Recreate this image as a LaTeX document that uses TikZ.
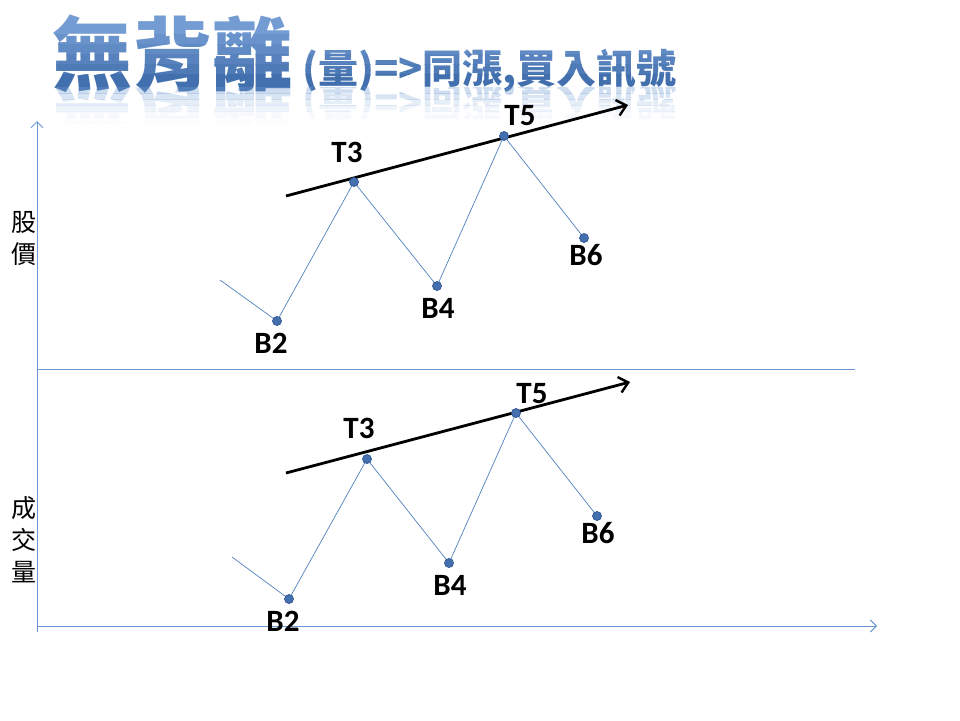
\documentclass[tikz,border=0pt]{standalone}
\usepackage{fontspec}
\setmainfont{Carlito}
\newfontfamily\cjk{Noto Sans CJK TC}
\usetikzlibrary{arrows.meta}
\definecolor{axisblue}{HTML}{6A96D2}
\definecolor{lineblue}{HTML}{4F81BD}
\definecolor{dotblue}{HTML}{4570B0}
\definecolor{dotedge}{HTML}{2F5590}
\definecolor{titletop}{HTML}{7CA4DA}
\definecolor{titlebot}{HTML}{2F5E9E}
\definecolor{titlelight}{HTML}{6F9AD2}
\begin{document}
\begin{tikzpicture}[x=1pt,y=-1pt,
  axis/.style={draw=axisblue, line width=1pt},
  axisarrow/.style={axis, -{Straight Barb[length=6pt,width=12pt,line width=1pt]}},
  wave/.style={draw=lineblue, line width=0.7pt},
  dot/.style={circle, fill=dotblue, draw=dotedge, line width=0.7pt, minimum size=9pt, inner sep=0pt},
  lbl/.style={font=\bfseries\fontsize{31}{31}\selectfont, inner sep=0pt},
  trend/.style={draw=black, line width=2.8pt, -{Straight Barb[length=9pt,width=16pt,line width=2.4pt]}},
  side/.style={font=\cjk\fontsize{25}{32}\selectfont, align=center, inner sep=0pt},
  bigtitle/.style={anchor=base west, inner sep=0pt, font=\cjk\bfseries\fontsize{80}{80}\selectfont},
  smalltitle/.style={anchor=base west, inner sep=0pt, font=\cjk\bfseries\fontsize{40}{40}\selectfont}]
\useasboundingbox (0,0) rectangle (960,720);

% ---- title (vertical gradient via bands) ----
\foreach \ya/\yb/\mx [count=\i] in {0/34/88, 34/44/76, 44/54/64, 54/64/52, 64/74/40, 74/100/25}{
  \begin{scope}
    \clip (40,\ya) rectangle (700,\yb);
    \node[bigtitle, text=titletop!\mx!titlebot] (tA\i) at (52,84) {無背離};
    \node[smalltitle, text=titletop!\mx!titlebot] (tB\i) at (302,83) {(量)=>同漲,買入訊號};
  \end{scope}
}
% ---- reflection ----
\foreach \yy/\oo [count=\i] in {87/0.34,93/0.26,99/0.18,105/0.11,111/0.06,117/0.03}{
  \begin{scope}
    \clip (40,\yy) rectangle (700,\yy+6);
    \node[bigtitle, yscale=-1, text=titlelight, text opacity=\oo] (rA\i) at (52,90) {無背離};
    \node[smalltitle, yscale=-1, text=titlelight, text opacity=\oo] (rB\i) at (302,87) {(量)=>同漲,買入訊號};
  \end{scope}
}

% ---- axes ----
\coordinate (yTop) at (37,121);
\coordinate (yBot) at (37,632);
\coordinate (midL) at (37,369);
\coordinate (midR) at (855,369);
\coordinate (xL) at (37,626);
\coordinate (xR) at (877,626);
\draw[axisarrow] (yBot) -- (yTop);
\draw[axis] (midL) -- (midR);
\draw[axisarrow] (xL) -- (xR);

\node[side] (lp) at (24,238) {股\\價};
\node[side] (lv) at (24,540) {成\\交\\量};

% ---- upper chart ----
\coordinate (s1) at (220,280);
\coordinate (pB2) at (277,321);
\coordinate (pT3) at (354,182);
\coordinate (pB4) at (437,286);
\coordinate (pT5) at (504,136);
\coordinate (pB6) at (584,238);
\draw[wave] (s1) -- (pB2) -- (pT3) -- (pB4) -- (pT5) -- (pB6);
\coordinate (ta1) at (286,196);
\coordinate (ta2) at (628,105);
\draw[trend] (ta1) -- (ta2);
\foreach \p in {pB2,pT3,pB4,pT5,pB6} \node[dot] (d\p) at (\p) {};
\node[lbl] (lT3) at (347,152) {T3};
\node[lbl] (lT5) at (520,116) {T5};
\node[lbl] (lB2) at (271,343) {B2};
\node[lbl] (lB4) at (438,308) {B4};
\node[lbl] (lB6) at (586,255) {B6};

% ---- lower chart ----
\coordinate (s2) at (232,557);
\coordinate (qB2) at (289,599);
\coordinate (qT3) at (367,459);
\coordinate (qB4) at (449,563);
\coordinate (qT5) at (516,413);
\coordinate (qB6) at (597,516);
\draw[wave] (s2) -- (qB2) -- (qT3) -- (qB4) -- (qT5) -- (qB6);
\coordinate (tb1) at (286,473);
\coordinate (tb2) at (630,382);
\draw[trend] (tb1) -- (tb2);
\foreach \p in {qB2,qT3,qB4,qT5,qB6} \node[dot] (d\p) at (\p) {};
\node[lbl] (mT3) at (359,428) {T3};
\node[lbl] (mT5) at (532,394) {T5};
\node[lbl] (mB2) at (283,621) {B2};
\node[lbl] (mB4) at (450,585) {B4};
\node[lbl] (mB6) at (598,533) {B6};
\end{tikzpicture}
\end{document}
